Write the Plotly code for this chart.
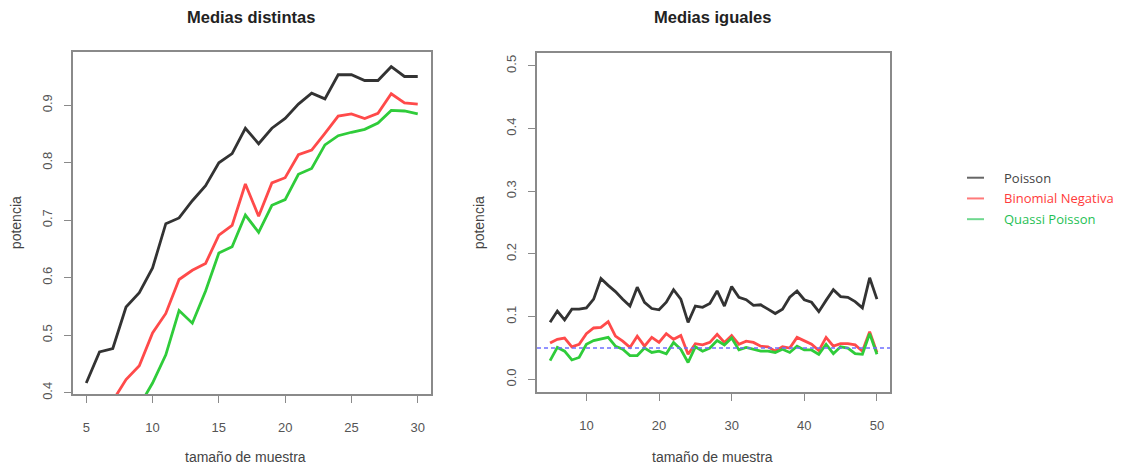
import plotly.graph_objects as go

# ---- data -------------------------------------------------------------
n_dist = list(range(5, 31))
poisson_dist = [0.417, 0.471, 0.477, 0.549, 0.574, 0.617, 0.694, 0.704, 0.734, 0.760,
                0.800, 0.816, 0.860, 0.833, 0.860, 0.877, 0.902, 0.921, 0.911, 0.953,
                0.953, 0.943, 0.943, 0.967, 0.950, 0.950]
binneg_dist = [0.310, 0.350, 0.386, 0.423, 0.447, 0.504, 0.538, 0.597, 0.613, 0.625,
               0.674, 0.691, 0.763, 0.707, 0.765, 0.774, 0.814, 0.822, 0.851, 0.881,
               0.885, 0.877, 0.886, 0.920, 0.904, 0.902]
quasi_dist = [0.260, 0.300, 0.330, 0.350, 0.377, 0.417, 0.466, 0.543, 0.521, 0.577,
              0.643, 0.654, 0.709, 0.679, 0.726, 0.736, 0.780, 0.790, 0.831, 0.847,
              0.853, 0.858, 0.869, 0.891, 0.890, 0.885]

n_igual = list(range(5, 51))
poisson_igual = [0.091, 0.109, 0.095, 0.112, 0.112, 0.114, 0.128, 0.161, 0.150, 0.140,
                 0.128, 0.117, 0.147, 0.123, 0.113, 0.111, 0.123, 0.143, 0.128, 0.091,
                 0.117, 0.115, 0.121, 0.141, 0.117, 0.148, 0.131, 0.127, 0.118, 0.119,
                 0.112, 0.105, 0.112, 0.131, 0.141, 0.127, 0.123, 0.108, 0.126, 0.143,
                 0.132, 0.131, 0.124, 0.114, 0.162, 0.128]
binneg_igual = [0.058, 0.064, 0.066, 0.052, 0.056, 0.073, 0.082, 0.083, 0.092, 0.069,
                0.061, 0.051, 0.069, 0.053, 0.067, 0.059, 0.073, 0.064, 0.070, 0.040,
                0.057, 0.055, 0.059, 0.072, 0.059, 0.070, 0.056, 0.061, 0.059, 0.053,
                0.052, 0.045, 0.052, 0.050, 0.067, 0.061, 0.056, 0.046, 0.067, 0.053,
                0.057, 0.057, 0.055, 0.045, 0.076, 0.043]
quasi_igual = [0.030, 0.051, 0.045, 0.031, 0.035, 0.056, 0.062, 0.065, 0.067, 0.053,
               0.048, 0.038, 0.038, 0.050, 0.043, 0.045, 0.041, 0.059, 0.048, 0.027,
               0.052, 0.045, 0.050, 0.062, 0.055, 0.066, 0.047, 0.051, 0.048, 0.045,
               0.045, 0.043, 0.048, 0.043, 0.053, 0.047, 0.047, 0.040, 0.056, 0.041,
               0.052, 0.050, 0.041, 0.040, 0.073, 0.040]
alpha = 0.05

series_names = ["Poisson", "Binomial Negativa", "Quassi Poisson"]
series_colors = ["#333333", "#ff4a4a", "#2fcc3a"]
legend_text_colors = ["#444444", "#ff3b3b", "#1fbf55"]
legend_line_colors = ["#666666", "#ff7a7a", "#6fd88f"]

left_ticks_x = [5, 10, 15, 20, 25, 30]
left_ticks_y = [0.4, 0.5, 0.6, 0.7, 0.8, 0.9]
right_ticks_x = [10, 20, 30, 40, 50]
right_ticks_y = [0.0, 0.1, 0.2, 0.3, 0.4, 0.5]

# ---- figure -----------------------------------------------------------
W, H = 1123, 472
fig = go.Figure()

for ys, col in zip([poisson_dist, binneg_dist, quasi_dist], series_colors):
    fig.add_trace(go.Scatter(x=n_dist, y=ys, mode="lines", xaxis="x", yaxis="y",
                             line=dict(color=col, width=2.8), showlegend=False,
                             hoverinfo="skip"))
for ys, col in zip([poisson_igual, binneg_igual, quasi_igual], series_colors):
    fig.add_trace(go.Scatter(x=n_igual, y=ys, mode="lines", xaxis="x2", yaxis="y2",
                             line=dict(color=col, width=2.8), showlegend=False,
                             hoverinfo="skip"))

# significance level reference line
fig.add_shape(type="line", xref="x2 domain", yref="y2", x0=0, x1=1, y0=alpha, y1=alpha,
              line=dict(color="#6f6fff", width=1.6, dash="4px,3px"))


def px(x):
    return x / W


def py(y):
    return 1 - y / H


axis_common = dict(showgrid=False, zeroline=False, showline=True, linecolor="#8a8a8a",
                   linewidth=1.7, mirror=True, ticks="outside", ticklen=7, tickwidth=1.2,
                   tickcolor="#8a8a8a", tickformat=".1f",
                   tickfont=dict(family="Liberation Sans", size=13, color="#555555"))

fig.update_layout(
    width=W, height=H, margin=dict(l=0, r=0, t=0, b=0),
    paper_bgcolor="white", plot_bgcolor="white", showlegend=False,
    xaxis=dict(domain=[px(73), px(431)], anchor="y", range=[4, 31],
               tickvals=left_ticks_x, ticklabelstandoff=14,
               **{**axis_common, "tickformat": "d"}),
    yaxis=dict(domain=[py(399), py(53)], anchor="x", range=[0.398, 0.992],
               tickvals=left_ticks_y, tickangle=-90, ticklabelstandoff=7, **axis_common),
    xaxis2=dict(domain=[px(537), px(890)], anchor="y2", range=[3.2, 51.8],
                tickvals=right_ticks_x, ticklabelstandoff=14,
                **{**axis_common, "tickformat": "d"}),
    yaxis2=dict(domain=[py(397), py(54)], anchor="x2", range=[-0.02, 0.52],
                tickvals=right_ticks_y, tickangle=-90, ticklabelstandoff=7, **axis_common),
)

title_font = dict(family="Liberation Sans", size=16.5, color="#222222")
label_font = dict(family="Liberation Sans", size=14, color="#444444")
annotations = [
    dict(text="<b>Medias distintas</b>", x=px(251), y=py(17), font=title_font),
    dict(text="<b>Medias iguales</b>", x=px(712), y=py(17), font=title_font),
    dict(text="tamaño de muestra", x=px(245), y=py(463), font=label_font),
    dict(text="tamaño de muestra", x=px(712), y=py(463), font=label_font),
    dict(text="potencia", x=px(16), y=py(226), font=label_font, textangle=-90),
    dict(text="potencia", x=px(479), y=py(226), font=label_font, textangle=-90),
]
for a in annotations:
    a.update(xref="paper", yref="paper", showarrow=False, xanchor="center", yanchor="middle")
    fig.add_annotation(**a)

# legend drawn by hand at the right of the second panel
for i, (name, lc, tc) in enumerate(zip(series_names, legend_line_colors, legend_text_colors)):
    yy = 180 + 21 * i
    fig.add_shape(type="line", xref="paper", yref="paper", x0=px(967), x1=px(984),
                  y0=py(yy), y1=py(yy), line=dict(color=lc, width=2))
    fig.add_annotation(text=name, xref="paper", yref="paper", x=px(1002), y=py(yy),
                       xanchor="left", yanchor="middle", showarrow=False,
                       font=dict(family="Open Sans", size=13, color=tc))

fig.write_html("out.html")
